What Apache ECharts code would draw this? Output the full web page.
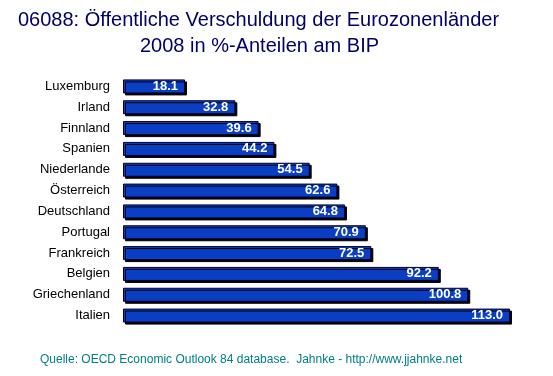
<!DOCTYPE html>
<html>
<head>
<meta charset="utf-8">
<script src="https://cdn.jsdelivr.net/npm/echarts@6/dist/echarts.min.js"></script>
<style>
	html, body { margin: 0; padding: 0; background: #fff; }
	#chart { width: 553px; height: 376px; }
</style>
</head>
<body>
<div id="chart"></div>
<script>
// Länder, von oben nach unten
var laender = ['Luxemburg', 'Irland', 'Finnland', 'Spanien', 'Niederlande', 'Österreich',
	'Deutschland', 'Portugal', 'Frankreich', 'Belgien', 'Griechenland', 'Italien'];
// Schuldenquote 2008 in % des BIP
var quote = [18.1, 32.8, 39.6, 44.2, 54.5, 62.6, 64.8, 70.9, 72.5, 92.2, 100.8, 113.0];

var titelStil = {
	fontFamily: 'Liberation Sans, Arial',
	fontSize: 20,
	fontWeight: 'normal',
	color: '#000066'
};

var myChart = echarts.init(document.getElementById('chart'));
var option = {
	animation: false,
	backgroundColor: '#fff',
	// Titel sitzt im Original etwas links der Mitte, daher zwei feste Zeilen
	title: [{
		text: '06088: Öffentliche Verschuldung der Eurozonenländer',
		left: 13,
		top: 5,
		textStyle: titelStil
	}, {
		text: '2008 in %-Anteilen am BIP',
		left: 135,
		top: 31,
		textStyle: titelStil
	}, {
		text: 'Quelle: OECD Economic Outlook 84 database.  Jahnke - http://www.jjahnke.net',
		left: 35,
		top: 349,
		textStyle: {
			fontFamily: 'Liberation Sans, Arial',
			fontSize: 12,
			fontWeight: 'normal',
			color: '#008080'
		}
	}],
	grid: {
		left: 123,
		right: 19,
		top: 76,
		height: 250
	},
	xAxis: {
		type: 'value',
		min: 0,
		max: 120,
		show: false
	},
	yAxis: {
		type: 'category',
		data: laender,
		inverse: true,
		axisLine: { show: false },
		axisTick: { show: false },
		splitLine: { show: false },
		axisLabel: {
			margin: 13,
			fontFamily: 'Liberation Sans, Arial',
			fontSize: 13,
			color: '#000'
		}
	},
	series: [{
		type: 'bar',
		data: quote,
		barWidth: 14,
		itemStyle: {
			color: '#0a3fc4',
			borderColor: '#000033',
			borderWidth: 1,
			shadowColor: '#000',
			shadowOffsetX: 2,
			shadowOffsetY: 2,
			shadowBlur: 0
		},
		label: {
			show: true,
			position: 'insideRight',
			distance: 7,
			formatter: function (p) { return p.value.toFixed(1); },
			fontFamily: 'Liberation Sans Narrow, Liberation Sans, Arial',
			fontSize: 13,
			fontWeight: 'bold',
			color: '#fff'
		}
	}]
};
myChart.setOption(option);
</script>
</body>
</html>
